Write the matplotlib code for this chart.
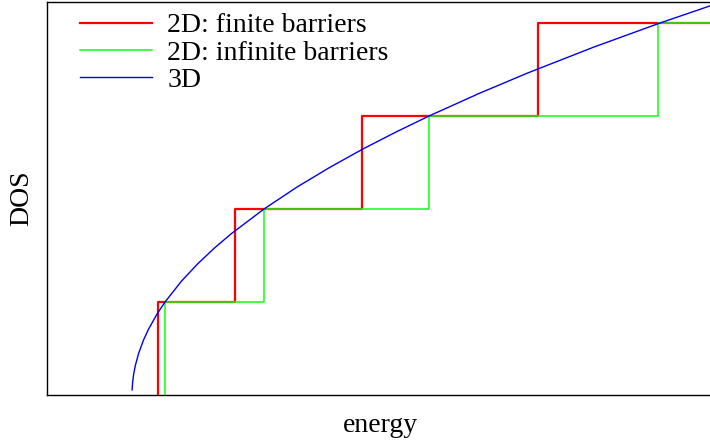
import numpy as np
import matplotlib
matplotlib.use('Agg')
import matplotlib.pyplot as plt

# ----- data (energy in units of the first infinite-well level) -----

# 2D, finite barriers: energies where the step goes up one level
finite_edges = [0.79, 3.12, 6.97, 12.29]
# 2D, infinite barriers: E_n = n^2
infinite_edges = [1.0, 4.0, 9.0, 15.95]
step_levels = [1, 2, 3, 4]

# 3D DOS curve
e_3d = [0.003, 0.02, 0.05, 0.1, 0.2, 0.35, 0.5, 0.75, 1.0, 1.5, 2.0, 2.5,
        3.0, 4.0, 5.0, 6.0, 7.0, 8.0, 9.0, 10.5, 12.0, 14.0, 16.0, 18.0]
dos_3d = [0.055, 0.141, 0.224, 0.316, 0.447, 0.592, 0.707, 0.866, 1.0,
          1.225, 1.414, 1.581, 1.732, 2.0, 2.236, 2.449, 2.646, 2.828, 3.0,
          3.240, 3.464, 3.742, 4.0, 4.243]

e_max = 18.0


def step_path(edges, levels, e_end):
    # staircase starting from zero at the first edge
    xs = [edges[0]]
    ys = [0]
    for i, e in enumerate(edges):
        xs += [e]
        ys += [levels[i]]
        nxt = edges[i + 1] if i + 1 < len(edges) else e_end
        xs += [nxt]
        ys += [levels[i]]
    return xs, ys


plt.rcParams['font.family'] = ['Liberation Serif', 'DejaVu Serif']

fig = plt.figure(figsize=(7.1, 4.44), dpi=100)
W, H = 710.0, 444.0
ax = fig.add_axes([47 / W, (H - 395) / H, (713 - 47) / W, (395 - 2) / H])

xf, yf = step_path(finite_edges, step_levels, e_max)
xi, yi = step_path(infinite_edges, step_levels, e_max)

ax.plot(xf, yf, color='#ff0000', lw=1.6, label='2D: finite barriers')
ax.plot(xi, yi, color='#11ff11', lw=1.1, label='2D: infinite barriers')
ax.plot(e_3d, dos_3d, color='#0000ee', lw=1.0, label='3D')

ax.set_xlim(-2.576, 17.606)
ax.set_ylim(0, 4.226)
ax.set_xticks([])
ax.set_yticks([])
for s in ax.spines.values():
    s.set_linewidth(1.0)

ax.set_xlabel('energy', fontsize=20, labelpad=13)
ax.set_ylabel('DOS', fontsize=20, labelpad=9)

ax.legend(loc='upper left', bbox_to_anchor=(80 / W, 1 - 13 / H),
          bbox_transform=fig.transFigure, frameon=False, fontsize=20,
          handlelength=2.6, handletextpad=0.54, labelspacing=0.06,
          borderpad=0, borderaxespad=0)

fig.savefig('out.png', dpi=100)
